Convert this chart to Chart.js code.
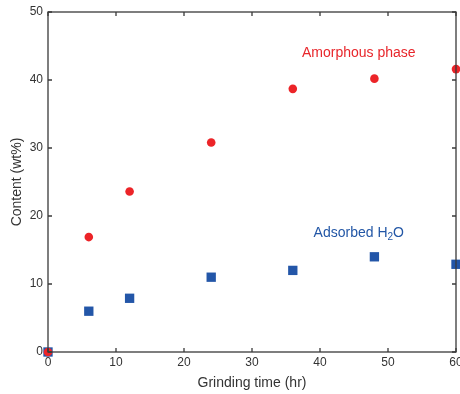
<!DOCTYPE html>
<html>
<head>
<meta charset="utf-8">
<script src="https://cdn.jsdelivr.net/npm/chart.js@4/dist/chart.umd.min.js"></script>
<style>
html,body{margin:0;padding:0;background:#fff;overflow:hidden;}
#wrap{width:460px;height:394px;position:relative;}
canvas{display:block;}
</style>
</head>
<body>
<div id="wrap"><canvas id="c" width="460" height="394"></canvas></div>
<script>
const grindHours = [0, 6, 12, 24, 36, 48, 60];
const amorphous = [0, 16.9, 23.6, 30.8, 38.7, 40.2, 41.6];
const adsorbedH2O = [0, 6.0, 7.9, 11.0, 12.0, 14.0, 12.9];
const xTicks = [0, 10, 20, 30, 40, 50, 60];
const yTicks = [0, 10, 20, 30, 40, 50];
const seriesLabels = [
  {text: 'Amorphous phase', x: 45.7, y: 43.9, color: '#e8262b'},
  {text: 'Adsorbed H', sub: '2', tail: 'O', x: 45.7, y: 17.45, color: '#2357a6'}
];

const RED = '#ec2428';
const BLUE = '#2356a8';
const AXIS = '#3a3a3a';
const FONT = '"Liberation Sans", Arial, Helvetica, sans-serif';

const framePlugin = {
  id: 'frame',
  afterDatasetsDraw(chart) {
    const ctx = chart.ctx;
    const a = chart.chartArea;
    const xs = chart.scales.x, ys = chart.scales.y;
    ctx.save();
    ctx.strokeStyle = AXIS;
    ctx.lineWidth = 1.3;
    ctx.strokeRect(a.left, a.top, a.right - a.left, a.bottom - a.top);
    const tl = 4;
    ctx.beginPath();
    xTicks.forEach(v => {
      const px = xs.getPixelForValue(v);
      ctx.moveTo(px, a.bottom); ctx.lineTo(px, a.bottom - tl);
      ctx.moveTo(px, a.top); ctx.lineTo(px, a.top + tl);
    });
    yTicks.forEach(v => {
      const py = ys.getPixelForValue(v);
      ctx.moveTo(a.left, py); ctx.lineTo(a.left + tl, py);
      ctx.moveTo(a.right, py); ctx.lineTo(a.right - tl, py);
    });
    ctx.stroke();
    ctx.fillStyle = '#333';
    ctx.font = '12px ' + FONT;
    ctx.textAlign = 'center';
    ctx.textBaseline = 'middle';
    xTicks.forEach(v => {
      ctx.fillText(String(v), xs.getPixelForValue(v), a.bottom + 11);
    });
    ctx.restore();
  },
  afterDraw(chart) {
    const ctx = chart.ctx;
    const xs = chart.scales.x, ys = chart.scales.y;
    ctx.save();
    ctx.textBaseline = 'middle';
    seriesLabels.forEach(l => {
      const px = xs.getPixelForValue(l.x), py = ys.getPixelForValue(l.y);
      ctx.fillStyle = l.color;
      ctx.font = '14px ' + FONT;
      const w1 = ctx.measureText(l.text).width;
      let w2 = 0, w3 = 0;
      if (l.sub) {
        ctx.font = '10px ' + FONT; w2 = ctx.measureText(l.sub).width;
        ctx.font = '14px ' + FONT; w3 = ctx.measureText(l.tail).width;
      }
      const x0 = px - (w1 + w2 + w3) / 2;
      ctx.textAlign = 'left';
      ctx.fillText(l.text, x0, py);
      if (l.sub) {
        ctx.font = '10px ' + FONT;
        ctx.fillText(l.sub, x0 + w1, py + 4);
        ctx.font = '14px ' + FONT;
        ctx.fillText(l.tail, x0 + w1 + w2, py);
      }
    });
    ctx.restore();
  }
};

new Chart(document.getElementById('c'), {
  type: 'scatter',
  data: {
    datasets: [
      {
        label: 'Amorphous phase',
        data: grindHours.map((h, i) => ({x: h, y: amorphous[i]})),
        backgroundColor: RED, borderColor: RED, borderWidth: 0,
        pointStyle: 'circle', pointRadius: 4.3, pointHoverRadius: 4.3
      },
      {
        label: 'Adsorbed H2O',
        data: grindHours.map((h, i) => ({x: h, y: adsorbedH2O[i]})),
        backgroundColor: BLUE, borderColor: BLUE, borderWidth: 0,
        pointStyle: 'rect', pointRadius: 6.6, pointHoverRadius: 6.6
      }
    ]
  },
  options: {
    responsive: false,
    animation: false,
    clip: false,
    layout: {autoPadding: false, padding: {top: 12, right: 4, left: 0, bottom: 0}},
    plugins: {legend: {display: false}, tooltip: {enabled: false}},
    scales: {
      x: {
        type: 'linear', min: 0, max: 60,
        afterBuildTicks(s) { s.ticks = xTicks.map(v => ({value: v})); },
        afterFit(s) { s.height = 42; s.paddingLeft = 0; s.paddingRight = 0; },
        grid: {display: false, drawTicks: false},
        border: {display: false},
        ticks: {display: false},
        title: {display: true, text: 'Grinding time (hr)', color: '#333', font: {family: FONT, size: 14}, padding: {top: 2, bottom: 2}}
      },
      y: {
        type: 'linear', min: 0, max: 50,
        afterBuildTicks(s) { s.ticks = yTicks.map(v => ({value: v})); },
        afterFit(s) { s.width = 48; s.paddingTop = 0; s.paddingBottom = 0; },
        grid: {display: false, drawTicks: false},
        border: {display: false},
        ticks: {color: '#333', font: {family: FONT, size: 12}, padding: 5},
        title: {display: true, text: 'Content (wt%)', color: '#333', font: {family: FONT, size: 14}, padding: {top: 9, bottom: 6}}
      }
    }
  },
  plugins: [framePlugin]
});
</script>
</body>
</html>
